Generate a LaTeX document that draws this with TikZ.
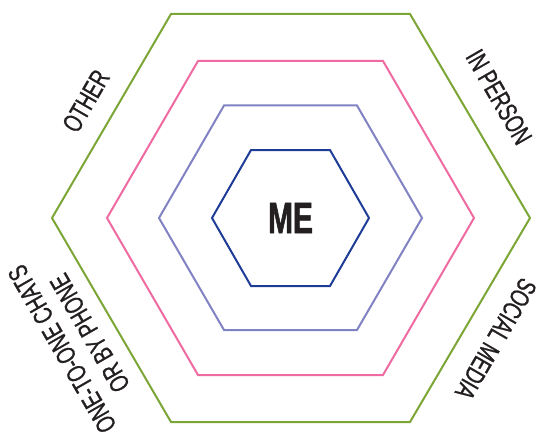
\documentclass[tikz,border=0pt]{standalone}
\usepackage{fontspec}
\newfontfamily\labfont[FakeStretch=0.7,FakeBold=0.8]{Liberation Sans}
\newfontfamily\mefont[FakeStretch=0.68,FakeBold=1.2]{Liberation Sans}
\definecolor{hgreen}{HTML}{7BA534}
\definecolor{hpink}{HTML}{EE6AA0}
\definecolor{hlav}{HTML}{8082C3}
\definecolor{hblue}{HTML}{1E3C96}
\definecolor{ink}{HTML}{231F20}
\tikzset{
  hexline/.style={line width=2pt, line join=miter},
  lab/.style={text=ink, font=\labfont\fontsize{27}{32}\selectfont, align=center, inner sep=0pt},
}
\begin{document}
\begin{tikzpicture}[x=1pt,y=-1pt]
\useasboundingbox (0,0) rectangle (540,441);
% hexagons
\draw[hexline, hgreen] (171,14) -- (410,14) -- (530,218) -- (410,422) -- (171,422) -- (52,218) -- cycle;
\draw[hexline, hpink] (198,61) -- (383,61) -- (474,218) -- (383,375) -- (198,375) -- (107,218) -- cycle;
\draw[hexline, hlav] (224,105.5) -- (357,105.5) -- (422,218) -- (357,330) -- (224,330) -- (159,218) -- cycle;
\draw[hexline, hblue] (251,150) -- (330,150) -- (369,218) -- (330,286) -- (251,286) -- (212,218) -- cycle;
% labels
\node[text=ink, inner sep=0pt, font=\mefont\bfseries\fontsize{44}{46}\selectfont] (me) at (290.5,218) {ME};
\node[lab, rotate=60] (other) at (86,101) {OTHER};
\node[lab, rotate=-60] (inperson) at (499,97) {IN PERSON};
\node[lab, rotate=-120] (social) at (496,339) {SOCIAL MEDIA};
\node[lab, rotate=120] (onetoone) at (76,341) {ONE-TO-ONE CHATS\\OR BY PHONE};
\end{tikzpicture}
\end{document}
